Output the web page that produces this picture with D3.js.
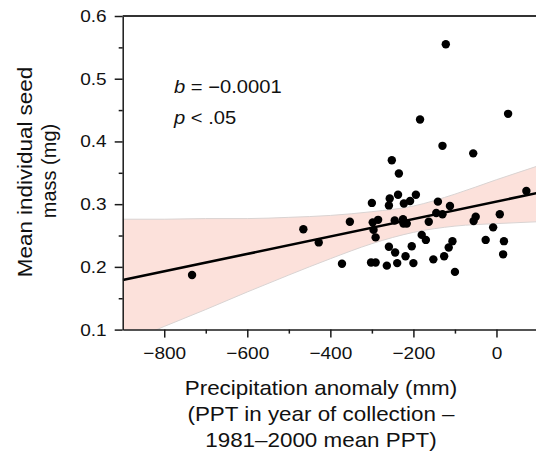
<!DOCTYPE html>
<html lang="en">
<head>
<meta charset="UTF-8">
<title>Seed mass vs precipitation anomaly</title>
<script src="https://d3js.org/d3.v7.min.js"></script>
<style>
  html, body { margin: 0; padding: 0; background: #fff; }
  svg { display: block; }
  text { font-family: 'Liberation Sans', Arial, Helvetica, sans-serif; fill: #111; }
</style>
</head>
<body>
<div id="chart"></div>
<script>
// observed points: precipitation anomaly (mm) and mean seed mass (mg)
const ppt = [-733, -122, 28, -184, -130, -56, -252, -235, -465, -428, -372, -353,
  -300, -298, -296, -291, -302, -291, -285, -264, -259, -257, -259, -244, -239,
  -237, -245, -224, -223, -225, -219, -216, -208, -204, -200, -194, -180, -170,
  -163, -152, -145, -141, -130, -126, -112, -115, -106, -100, -55, -50, -26, -8,
  8, 18, 16, 72];
const seed = [0.187, 0.555, 0.444, 0.435, 0.393, 0.381, 0.370, 0.349, 0.260, 0.239,
  0.205, 0.272, 0.302, 0.271, 0.259, 0.247, 0.207, 0.207, 0.275, 0.202, 0.232,
  0.309, 0.298, 0.223, 0.206, 0.315, 0.274, 0.269, 0.301, 0.276, 0.217, 0.269,
  0.305, 0.233, 0.206, 0.315, 0.251, 0.243, 0.272, 0.212, 0.286, 0.304, 0.284,
  0.217, 0.297, 0.231, 0.241, 0.192, 0.273, 0.280, 0.243, 0.263, 0.284, 0.241,
  0.220, 0.321];

// fitted line and its confidence band
const fitX = [-900, 100];
const fitY = [0.179, 0.318];
const bandX = [-900, -800, -700, -600, -500, -400, -300, -200, -100, 0, 100];
const bandUpper = [0.276, 0.276, 0.277, 0.277, 0.279, 0.282, 0.288, 0.297, 0.316, 0.339, 0.361];
const bandLower = [0.077, 0.105, 0.132, 0.160, 0.187, 0.213, 0.237, 0.255, 0.265, 0.269, 0.272];

const yTicks = [0.1, 0.2, 0.3, 0.4, 0.5, 0.6];
const yMinor = [0.15, 0.25, 0.35, 0.45, 0.55];
const xTicks = [-800, -600, -400, -200, 0];
const xMinor = [-700, -500, -300, -100];

const statLines = [["b", " = \u22120.0001"], ["p", " < .05"]];
const xTitle = ["Precipitation anomaly (mm)", "(PPT in year of collection \u2013", "1981\u20132000 mean PPT)"];
const yTitle = ["Mean individual seed", "mass (mg)"];

const W = 536, H = 452;
const SX = 1.12; // the reference font runs a bit wide
const plotL = 122.7, plotR = 538, plotT = 16, plotB = 329.6;

const x = d3.scaleLinear().domain([-900, 100]).range([plotL, plotR]);
const y = d3.scaleLinear().domain([0.1, 0.6]).range([plotB, plotT]);

const svg = d3.select("#chart").append("svg")
  .attr("width", W).attr("height", H);

svg.append("defs").append("clipPath").attr("id", "plot")
  .append("rect").attr("x", plotL).attr("y", plotT)
  .attr("width", plotR - plotL).attr("height", plotB - plotT);

const plot = svg.append("g").attr("clip-path", "url(#plot)");

// confidence band
const bandData = bandX.map((v, i) => ({ x: v, lo: bandLower[i], hi: bandUpper[i] }));
plot.append("path")
  .datum(bandData)
  .attr("fill", "#fce1db")
  .attr("d", d3.area().curve(d3.curveMonotoneX)
    .x(d => x(d.x)).y0(d => y(d.lo)).y1(d => y(d.hi)));
["lo", "hi"].forEach(k => {
  plot.append("path")
    .datum(bandData)
    .attr("fill", "none")
    .attr("stroke", "#d9d3d2")
    .attr("stroke-width", 1)
    .attr("d", d3.line().curve(d3.curveMonotoneX).x(d => x(d.x)).y(d => y(d[k])));
});

// regression line
plot.append("line")
  .attr("x1", x(fitX[0])).attr("y1", y(fitY[0]))
  .attr("x2", x(fitX[1])).attr("y2", y(fitY[1]))
  .attr("stroke", "#000").attr("stroke-width", 2.6);

// points
svg.append("g").selectAll("circle")
  .data(ppt.map((v, i) => [v, seed[i]]))
  .join("circle")
  .attr("cx", d => x(d[0]))
  .attr("cy", d => y(d[1]))
  .attr("r", 4.2)
  .attr("fill", "#000");

// axes
const axisColor = "#1a1a1a";
function styleAxis(g) {
  g.selectAll("path, line").attr("stroke", axisColor).attr("stroke-width", 1.5);
  g.selectAll("text").attr("font-size", 17).attr("fill", "#111")
    .attr("font-family", "'Liberation Sans', Arial, Helvetica, sans-serif");
}

const yAxis = svg.append("g")
  .attr("transform", `translate(${plotL},0)`)
  .call(d3.axisLeft(y).tickValues(yTicks).tickSize(8).tickSizeOuter(0)
    .tickFormat(d3.format(".1f")));
styleAxis(yAxis);
yAxis.selectAll("text").attr("x", -16 / SX).attr("transform", `scale(${SX},1)`);

svg.append("g")
  .attr("transform", `translate(${plotL},0)`)
  .call(d3.axisLeft(y).tickValues(yMinor).tickSize(4).tickFormat(""))
  .call(g => g.select(".domain").remove())
  .call(styleAxis);

const xAxis = svg.append("g")
  .attr("transform", `translate(0,${plotB})`)
  .call(d3.axisBottom(x).tickValues(xTicks).tickSize(8).tickSizeOuter(0).tickPadding(9));
styleAxis(xAxis);
xAxis.selectAll("text").attr("transform", `scale(${SX},1)`);

svg.append("g")
  .attr("transform", `translate(0,${plotB})`)
  .call(d3.axisBottom(x).tickValues(xMinor).tickSize(4).tickFormat(""))
  .call(g => g.select(".domain").remove())
  .call(styleAxis);

// top frame line
svg.append("line")
  .attr("x1", plotL).attr("x2", plotR)
  .attr("y1", plotT).attr("y2", plotT)
  .attr("stroke", "#333").attr("stroke-width", 1.8);

// stretched text helper
function label(px, py, size, anchor, rot, sx = SX) {
  const g = svg.append("g")
    .attr("transform", `translate(${px},${py})` + (rot ? ` rotate(${rot})` : "") + ` scale(${sx},1)`);
  return g.append("text").attr("font-size", size).attr("text-anchor", anchor);
}

// regression statistics
statLines.forEach((s, i) => {
  const t = label(174, 92.5 + i * 31.5, 18, "start");
  t.append("tspan").attr("font-style", "italic").text(s[0]);
  t.append("tspan").text(s[1]);
});

// axis titles
xTitle.forEach((s, i) => {
  label(321, 394.5 + i * 26.3, 20, "middle").text(s);
});
label(32, 172, 20, "middle", -90).text(yTitle[0]);
label(55.5, 171, 20, "middle", -90, 1.0).text(yTitle[1]);
</script>
</body>
</html>
